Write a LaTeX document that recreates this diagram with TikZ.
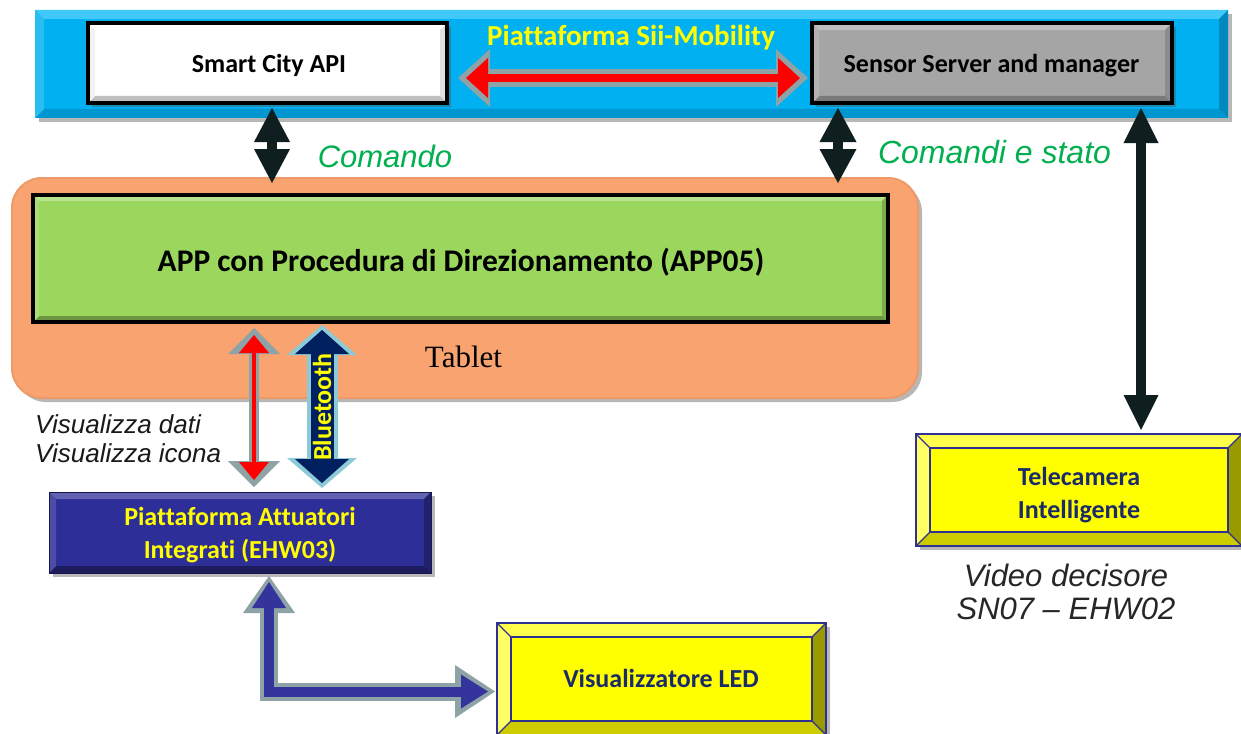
\documentclass[tikz,border=0pt]{standalone}
\usepackage{fontspec}
\newfontfamily\calibf[Ligatures=NoCommon]{Carlito}
\newfontfamily\arialf{Liberation Sans}
\newfontfamily\timesf{Liberation Serif}
\usetikzlibrary{arrows.meta,shadows,calc}
\definecolor{bandblue}{HTML}{00B0F0}
\definecolor{bandtop}{HTML}{40C8F8}
\definecolor{bandleft}{HTML}{2ABDF2}
\definecolor{bandbot}{HTML}{0096CF}
\definecolor{bandright}{HTML}{0089BE}
\definecolor{arrowgray}{HTML}{8DA3A6}
\definecolor{arrowblack}{HTML}{0F1E1E}
\definecolor{btout}{HTML}{8CCAD8}
\definecolor{btin}{HTML}{002060}
\definecolor{actface}{HTML}{2E2E99}
\definecolor{linner}{HTML}{34349C}
\definecolor{greenface}{HTML}{9BD75D}
\definecolor{tabfill}{HTML}{F8A370}
\definecolor{tabdraw}{HTML}{EE9A66}
\definecolor{greentext}{HTML}{00B050}
\definecolor{navytext}{HTML}{1B2A68}
\definecolor{navyline}{HTML}{2E3192}
\definecolor{ssgray}{HTML}{A5A5A5}
\definecolor{yface}{HTML}{FFFF00}
\newcommand{\bevelbox}[6]{%
 \fill[#3] (#1.north west) -- (#1.north east) -- ([xshift=-#2,yshift=-#2]#1.north east) -- ([xshift=#2,yshift=-#2]#1.north west) -- cycle;
 \fill[#4] (#1.north east) -- (#1.south east) -- ([xshift=-#2,yshift=#2]#1.south east) -- ([xshift=-#2,yshift=-#2]#1.north east) -- cycle;
 \fill[#5] (#1.south east) -- (#1.south west) -- ([xshift=#2,yshift=#2]#1.south west) -- ([xshift=-#2,yshift=#2]#1.south east) -- cycle;
 \fill[#6] (#1.south west) -- (#1.north west) -- ([xshift=#2,yshift=-#2]#1.north west) -- ([xshift=#2,yshift=#2]#1.south west) -- cycle;
}
\newcommand{\yellowlines}[2]{%
 \draw[navyline,line width=1.5pt] (#1.north west) rectangle (#1.south east);
 \draw[navyline,line width=1.5pt] ([xshift=#2,yshift=-#2]#1.north west) rectangle ([xshift=-#2,yshift=#2]#1.south east);
 \draw[navyline,line width=1.2pt] (#1.north west) -- ([xshift=#2,yshift=-#2]#1.north west);
 \draw[navyline,line width=1.2pt] (#1.north east) -- ([xshift=-#2,yshift=-#2]#1.north east);
 \draw[navyline,line width=1.2pt] (#1.south west) -- ([xshift=#2,yshift=#2]#1.south west);
 \draw[navyline,line width=1.2pt] (#1.south east) -- ([xshift=-#2,yshift=#2]#1.south east);
}
\begin{document}
\begin{tikzpicture}[x=1pt,y=-1pt,
  box/.style={rectangle, inner sep=0pt, outer sep=0pt},
  btxt/.style={inner sep=0pt, anchor=base, font=\calibf\bfseries\fontsize{26}{32}\selectfont},
  shad/.style={drop shadow={shadow xshift=4pt,shadow yshift=-4pt,opacity=0.4,fill=black!70}},
  italab/.style={inner sep=0pt, anchor=base},
]
\useasboundingbox (0,0) rectangle (1241,733);
\fill[white] (0,0) rectangle (1241,733);

% ---- platform band
\node[box, shad, fill=bandblue, minimum width=1193pt, minimum height=108pt] (band) at (631.5,64) {};
\bevelbox{band}{9pt}{bandtop}{bandright}{bandbot}{bandleft}

\node[box, shad, fill=white, minimum width=359pt, minimum height=80pt] (sca) at (267.5,63) {};
\bevelbox{sca}{7pt}{white}{black!12}{black!25}{black!5}
\draw[black, line width=3.5pt] (sca.north west) rectangle (sca.south east);
\node[btxt] (scatxt) at (269,73) {Smart City API};

\node[box, shad, fill=ssgray, minimum width=360pt, minimum height=80pt] (sss) at (992,63) {};
\bevelbox{sss}{7pt}{black!25}{black!45}{black!52}{black!30}
\draw[black, line width=3.5pt] (sss.north west) rectangle (sss.south east);
\node[btxt] (ssstxt) at (991.5,73) {Sensor Server and manager};

\node[btxt, text=yface, font=\calibf\bfseries\fontsize{29}{32}\selectfont] (title) at (631,46) {Piattaforma Sii-Mobility};

% ---- tablet
\node[rectangle, rounded corners=30pt, shad, fill=tabfill, draw=tabdraw, line width=2pt, minimum width=906pt, minimum height=220pt, inner sep=0pt, outer sep=0pt] (tab) at (465,288) {};
\node[italab, font=\timesf\fontsize{31}{34}\selectfont] (tablbl) at (463.5,367) {Tablet};

\node[box, fill=greenface, minimum width=855pt, minimum height=127pt] (app) at (460.5,258.5) {};
\bevelbox{app}{6pt}{greenface!70!white}{greenface!80!black}{greenface!70!black}{greenface!85!white}
\draw[black, line width=3.5pt] (app.north west) rectangle (app.south east);
\node[btxt, font=\calibf\bfseries\fontsize{31.5}{36}\selectfont] (apptxt) at (461,271) {APP con Procedura di Direzionamento (APP05)};

% ---- actuators
\node[box, shad, fill=actface, minimum width=382pt, minimum height=81pt] (act) at (240,532.5) {};
\bevelbox{act}{7pt}{actface!75!white}{actface!70!black}{actface!60!black}{actface!85!white}
\draw[actface!50!black, line width=1pt] (act.north west) rectangle (act.south east);
\node[btxt, text=yface] (acttxta) at (240,525) {Piattaforma Attuatori};
\node[btxt, text=yface] (acttxtb) at (240,558) {Integrati (EHW03)};

% ---- LED
\node[box, shad, fill=yface, minimum width=329pt, minimum height=112pt] (led) at (661.5,679) {};
\bevelbox{led}{14pt}{yface!70!white}{yface!60!black}{yface!80!black}{yface!60!white}
\yellowlines{led}{14pt}
\node[btxt, text=navytext] (ledtxt) at (661,687) {Visualizzatore LED};

% ---- camera
\node[box, shad, fill=yface, minimum width=326pt, minimum height=112pt] (cam) at (1079,490) {};
\bevelbox{cam}{14pt}{yface!70!white}{yface!60!black}{yface!80!black}{yface!60!white}
\yellowlines{cam}{14pt}
\node[btxt, text=navytext] (camtxta) at (1079,485) {Telecamera};
\node[btxt, text=navytext] (camtxtb) at (1079,518) {Intelligente};

% ---- connectors
% red horizontal double arrow
\draw[arrowgray, line width=18pt, {Triangle[width=58pt,length=32pt,line width=0pt]}-{Triangle[width=58pt,length=32pt,line width=0pt]}, shorten <=11pt, shorten >=4pt]
  ([yshift=-15pt]sca.east) -- ([yshift=-15pt]sss.west);
\draw[red, line width=8pt, {Triangle[width=40pt,length=22pt,line width=0pt]}-{Triangle[width=40pt,length=22pt,line width=0pt]}, shorten <=19pt, shorten >=12pt]
  ([yshift=-15pt]sca.east) -- ([yshift=-15pt]sss.west);

% black arrows
\draw[arrowblack, line width=10pt, {Triangle[width=36pt,length=34pt,line width=0pt]}-{Triangle[width=36pt,length=34pt,line width=0pt]}, shorten <=5pt, shorten >=12pt]
  ([xshift=4.5pt]sca.south) -- ([xshift=4.5pt]sca.south |- app.north);
\draw[arrowblack, line width=10pt, {Triangle[width=37pt,length=34pt,line width=0pt]}-{Triangle[width=37pt,length=34pt,line width=0pt]}, shorten <=5pt, shorten >=12pt]
  ([xshift=26pt]sss.south west) -- ([xshift=26pt]sss.south west |- app.north);
\draw[arrowblack, line width=10pt, {Triangle[width=35pt,length=35pt,line width=0pt]}-{Triangle[width=35pt,length=35pt,line width=0pt]}, shorten <=5pt, shorten >=4pt]
  ([xshift=-31pt]sss.south east) -- ([xshift=-31pt]sss.south east |- cam.north);

% red vertical double arrow
\draw[arrowgray, line width=10pt, {Triangle[width=52pt,length=26pt,line width=0pt]}-{Triangle[width=52pt,length=26pt,line width=0pt]}, shorten <=6pt, shorten >=5pt]
  ([xshift=221pt]app.south west) -- ([xshift=221pt]app.south west |- act.north);
\draw[red, line width=4pt, {Triangle[width=30pt,length=18pt,line width=0pt]}-{Triangle[width=30pt,length=18pt,line width=0pt]}, shorten <=13pt, shorten >=12pt]
  ([xshift=221pt]app.south west) -- ([xshift=221pt]app.south west |- act.north);

% bluetooth arrow
\draw[btout, line width=31pt, {Triangle[width=70pt,length=30pt,line width=0pt]}-{Triangle[width=70pt,length=30pt,line width=0pt]}, shorten <=3pt, shorten >=4pt]
  ([xshift=289pt]app.south west) -- ([xshift=289pt]app.south west |- act.north);
\draw[btin, line width=23pt, {Triangle[width=54pt,length=24pt,line width=0pt]}-{Triangle[width=54pt,length=24pt,line width=0pt]}, shorten <=8pt, shorten >=9pt]
  ([xshift=289pt]app.south west) -- node[rotate=90, text=yface, inner sep=0pt, font=\calibf\bfseries\fontsize{26}{30}\selectfont] (bt) {Bluetooth} ([xshift=289pt]app.south west |- act.north);

% L-shaped blue arrow
\draw[arrowgray, line width=18pt, line join=miter, {Triangle[width=52pt,length=37pt,line width=0pt]}-{Triangle[width=53pt,length=40pt,line width=0pt]}, shorten <=3pt, shorten >=2pt]
  ([xshift=29pt]act.south) |- ([yshift=-12.5pt]led.west);
\draw[linner, line width=10pt, line join=miter, {Triangle[width=34pt,length=26pt,line width=0pt]}-{Triangle[width=34pt,length=27pt,line width=0pt]}, shorten <=9pt, shorten >=9pt]
  ([xshift=29pt]act.south) |- ([yshift=-12.5pt]led.west);

% ---- labels
\node[italab, text=greentext, font=\arialf\itshape\fontsize{31}{36}\selectfont] (lcom) at (385,167) {Comando};
\node[italab, text=greentext, font=\arialf\itshape\fontsize{32}{36}\selectfont] (lcs) at (994.5,163) {Comandi e stato};
\node[italab, anchor=base west, text=black!90, font=\arialf\itshape\fontsize{26}{30}\selectfont] (lvisa) at (35,433) {Visualizza dati};
\node[italab, anchor=base west, text=black!90, font=\arialf\itshape\fontsize{26}{30}\selectfont] (lvisb) at (35,462) {Visualizza icona};
\node[italab, text=black!85, font=\arialf\itshape\fontsize{31}{34}\selectfont] (lvida) at (1066,586) {Video decisore};
\node[italab, text=black!85, font=\arialf\itshape\fontsize{31}{34}\selectfont] (lvidb) at (1066,619) {SN07 – EHW02};
\end{tikzpicture}
\end{document}
